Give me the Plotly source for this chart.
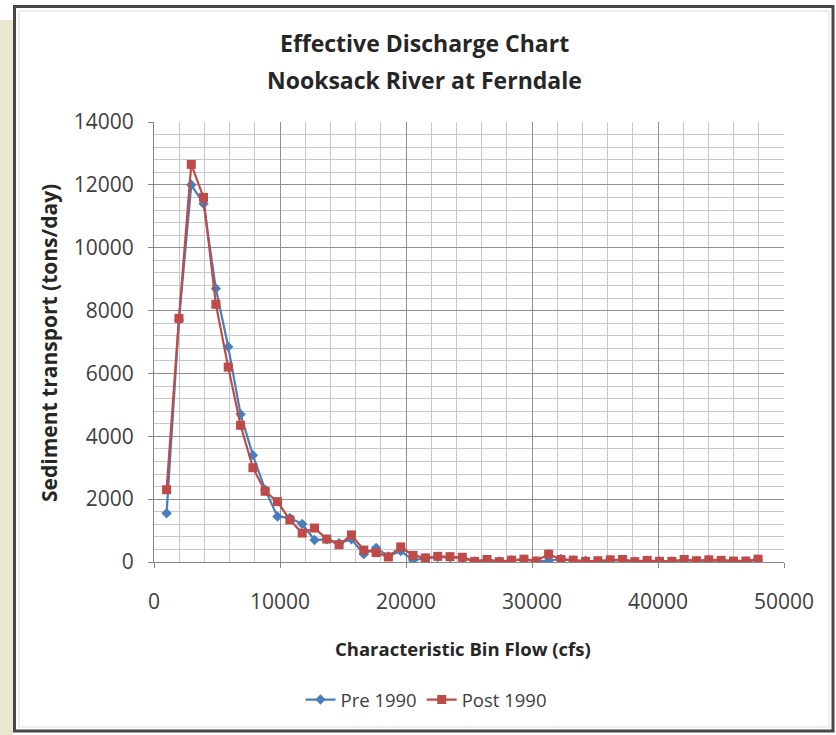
import plotly.graph_objects as go

# Characteristic bin flow (cfs)
bin_flow = [1000, 1980, 2960, 3930, 4910, 5890, 6870, 7850, 8820, 9800,
            10780, 11760, 12740, 13710, 14690, 15670, 16650, 17630, 18600, 19580,
            20560, 21540, 22520, 23490, 24470, 25450, 26430, 27410, 28380, 29360,
            30340, 31320, 32300, 33270, 34250, 35230, 36210, 37190, 38160, 39140,
            40120, 41100, 42080, 43050, 44030, 45010, 45990, 46970, 47940]

# Sediment transport (tons/day)
pre_1990 = [1550, 7700, 12000, 11400, 8700, 6850, 4700, 3400, 2300, 1450,
            1400, 1210, 700, 720, 600, 720, 250, 450, 180, 350,
            60, 120, 160, 150, 130, 20, 60, 20, 50, 80,
            20, 40, 100, 50, 40, 20, 50, 60, 20, 40,
            20, 20, 60, 30, 50, 40, 20, 20, 70]
post_1990 = [2300, 7750, 12650, 11600, 8200, 6200, 4350, 3000, 2250, 1920,
             1340, 920, 1080, 730, 550, 860, 380, 300, 160, 480,
             210, 130, 180, 170, 150, 20, 80, 10, 60, 90,
             30, 250, 80, 60, 20, 40, 70, 80, 10, 50,
             20, 20, 80, 40, 70, 50, 30, 30, 90]

W, H = 836, 735
L, R, T, B = 154, 784, 122, 562  # plot area pixel edges


def px(x):
    return (x - L) / (R - L)


def py(y):
    return (B - y) / (B - T)


FONT = "Open Sans"
TXT = "#404040"

fig = go.Figure()
fig.add_trace(go.Scatter(
    x=bin_flow, y=pre_1990, name="Pre 1990", mode="lines+markers",
    line=dict(color="#4A7EBB", width=2.2),
    marker=dict(symbol="diamond", size=8, color="#4A7EBB"),
))
fig.add_trace(go.Scatter(
    x=bin_flow, y=post_1990, name="Post 1990", mode="lines+markers",
    line=dict(color="#BE4B48", width=2.2),
    marker=dict(symbol="square", size=9, color="#BE4B48"),
))

grid_major = "#8f8f8f"
grid_minor = "#c8c8c8"

fig.update_xaxes(
    range=[0, 50000], dtick=10000, tick0=0, tickformat="d",
    showgrid=True, gridcolor=grid_major, gridwidth=1,
    minor=dict(dtick=2000, showgrid=True, gridcolor=grid_minor, gridwidth=1),
    showline=True, linecolor="#868686", linewidth=1,
    ticks="outside", ticklen=5, tickcolor="#868686",
    tickfont=dict(family=FONT, size=21, color=TXT),
    ticklabelstandoff=16, zeroline=False,
)
fig.update_yaxes(
    range=[0, 14000], dtick=2000, tick0=0, tickformat="d",
    showgrid=True, gridcolor=grid_major, gridwidth=1,
    minor=dict(dtick=400, showgrid=True, gridcolor=grid_minor, gridwidth=1),
    showline=True, linecolor="#868686", linewidth=1,
    ticks="outside", ticklen=5, tickcolor="#868686",
    tickfont=dict(family=FONT, size=21, color=TXT),
    ticklabelstandoff=10, zeroline=False,
)

shapes = [
    # beige page strip on the left
    dict(type="rect", xref="paper", yref="paper", x0=px(0), x1=px(13), y0=py(20), y1=py(740),
         fillcolor="#E9E7D0", line=dict(width=0), layer="below"),
    # dark frame
    dict(type="rect", xref="paper", yref="paper", x0=px(14.5), x1=px(833), y0=py(6.5), y1=py(731),
         fillcolor="rgba(0,0,0,0)", line=dict(color="#4B4449", width=3), layer="below"),
    # light inner border
    dict(type="rect", xref="paper", yref="paper", x0=px(19), x1=px(829), y0=py(11), y1=py(727),
         fillcolor="rgba(0,0,0,0)", line=dict(color="#dcdcdc", width=1), layer="below"),
]

annotations = [
    dict(text="<b>Effective Discharge Chart</b>", x=px(424), y=py(43), xref="paper", yref="paper",
         showarrow=False, font=dict(family=FONT, size=23, color="#262626"), xanchor="center", yanchor="middle"),
    dict(text="<b>Nooksack River at Ferndale</b>", x=px(424), y=py(80), xref="paper", yref="paper",
         showarrow=False, font=dict(family=FONT, size=23, color="#262626"), xanchor="center", yanchor="middle"),
    dict(text="<b>Characteristic Bin Flow (cfs)</b>", x=px(463), y=py(648), xref="paper", yref="paper",
         showarrow=False, font=dict(family=FONT, size=18.5, color="#262626"), xanchor="center", yanchor="middle"),
    dict(text="<b>Sediment transport (tons/day)</b>", x=px(49), y=py(343), xref="paper", yref="paper",
         showarrow=False, textangle=-90, font=dict(family=FONT, size=21, color="#262626"),
         xanchor="center", yanchor="middle"),
]

fig.update_layout(
    width=W, height=H,
    margin=dict(l=L, r=W - R, t=T, b=H - B),
    paper_bgcolor="white", plot_bgcolor="white",
    showlegend=True,
    legend=dict(orientation="h", x=px(426), y=py(700), xanchor="center", yanchor="middle",
                font=dict(family=FONT, size=18.5, color=TXT), itemwidth=30,
                bgcolor="rgba(0,0,0,0)", tracegroupgap=0),
    shapes=shapes, annotations=annotations,
)

fig.write_html("out.html")
